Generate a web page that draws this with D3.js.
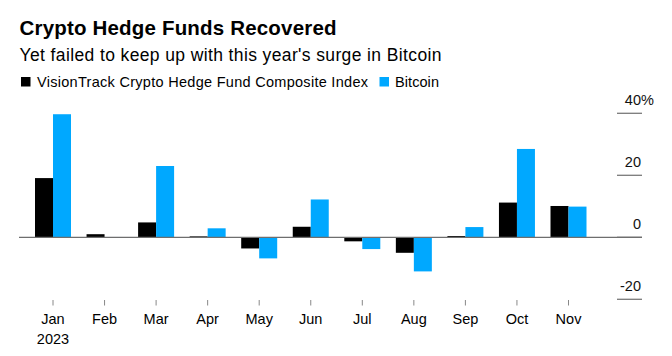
<!DOCTYPE html>
<html>
<head>
<meta charset="utf-8">
<script src="https://cdn.jsdelivr.net/npm/d3@7"></script>
<style>
  html, body { margin: 0; padding: 0; background: #fff; }
  svg { display: block; font-family: "Liberation Sans", Arial, Helvetica, sans-serif; }
</style>
</head>
<body>
<svg id="chart" width="672" height="356"></svg>
<script>
const months = ["Jan","Feb","Mar","Apr","May","Jun","Jul","Aug","Sep","Oct","Nov"];
const seriesNames = ["VisionTrack Crypto Hedge Fund Composite Index", "Bitcoin"];
const hedgeFund = [19.1, 1.0, 4.8, 0.3, -3.6, 3.4, -1.3, -5.0, 0.4, 11.2, 10.1];
const bitcoin = [39.7, 0.1, 23.0, 2.9, -6.8, 12.2, -3.8, -11.0, 3.3, 28.5, 9.9];
const yTicks = [40, 20, 0, -20];
const colors = ["#000000", "#00a8ff"];

const svg = d3.select("#chart");

// Title block
svg.append("text").attr("x", 19.5).attr("y", 35)
  .attr("font-size", 20.5).attr("font-weight", "bold").attr("fill", "#000")
  .attr("textLength", 317).attr("lengthAdjust", "spacing")
  .text("Crypto Hedge Funds Recovered");
svg.append("text").attr("x", 19.5).attr("y", 60.5)
  .attr("font-size", 17.5).attr("fill", "#000")
  .attr("textLength", 422).attr("lengthAdjust", "spacing")
  .text("Yet failed to keep up with this year's surge in Bitcoin");

// Legend
const legendLayout = [
  { sx: 21, tx: 37, tw: 331 },
  { sx: 379.5, tx: 395, tw: 44 }
];
const legend = svg.append("g");
seriesNames.forEach((name, i) => {
  const L = legendLayout[i];
  legend.append("rect").attr("x", L.sx).attr("y", 77).attr("width", 9.5).attr("height", 9.5).attr("fill", colors[i]);
  legend.append("text").attr("x", L.tx).attr("y", 86.5)
    .attr("font-size", 14.5).attr("fill", "#000")
    .attr("textLength", L.tw).attr("lengthAdjust", "spacing")
    .text(name);
});

// Scales
const step = 51.55;
const x = d3.scaleBand().domain(months).range([53 - step / 2, 53 - step / 2 + step * months.length]).padding(0);
const x1 = d3.scaleBand().domain(seriesNames).range([-18, 18]).padding(0);
const y = d3.scaleLinear().domain([-20, 40]).range([299.3, 113.3]);

// Y gridlines (short, right side)
const yAxis = svg.append("g");
yTicks.forEach(v => {
  yAxis.append("line").attr("x1", 617).attr("x2", 642)
    .attr("y1", y(v)).attr("y2", y(v))
    .attr("stroke", "#7a7a7a").attr("stroke-width", 1.3);
  yAxis.append("text").attr("x", 641).attr("y", y(v) - 8.5)
    .attr("text-anchor", "end").attr("font-size", 14.5).attr("fill", "#111")
    .text(v);
  if (v === 40) {
    yAxis.append("text").attr("x", 641).attr("y", y(v) - 8.5)
      .attr("font-size", 14.5).attr("fill", "#111").text("%");
  }
});

// Bars
const data = months.map((m, i) => ({ month: m, values: [hedgeFund[i], bitcoin[i]] }));
const groups = svg.append("g").selectAll("g").data(data).join("g")
  .attr("transform", d => `translate(${x(d.month) + x.bandwidth() / 2},0)`);
groups.selectAll("rect").data(d => d.values.map((v, i) => ({ name: seriesNames[i], v, i })))
  .join("rect")
  .attr("x", d => x1(d.name))
  .attr("width", x1.bandwidth())
  .attr("y", d => Math.min(y(d.v), y(0)))
  .attr("height", d => Math.max(0.8, Math.abs(y(d.v) - y(0))))
  .attr("fill", d => colors[d.i]);

// Zero line
svg.append("line").attr("x1", 19).attr("x2", 642).attr("y1", y(0)).attr("y2", y(0))
  .attr("stroke", "#6e6e6e").attr("stroke-width", 1.3);

// X axis ticks and labels
const xAxis = svg.append("g");
months.forEach((m, i) => {
  const cx = x(m) + x.bandwidth() / 2;
  xAxis.append("line").attr("x1", cx).attr("x2", cx).attr("y1", 300).attr("y2", 305.5)
    .attr("stroke", "#888").attr("stroke-width", 1);
  xAxis.append("text").attr("x", cx).attr("y", 323.5).attr("text-anchor", "middle")
    .attr("font-size", 14.5).attr("fill", "#000").text(m);
  if (i === 0) {
    xAxis.append("text").attr("x", cx).attr("y", 343.5).attr("text-anchor", "middle")
      .attr("font-size", 14.5).attr("fill", "#000").text("2023");
  }
});
</script>
</body>
</html>
